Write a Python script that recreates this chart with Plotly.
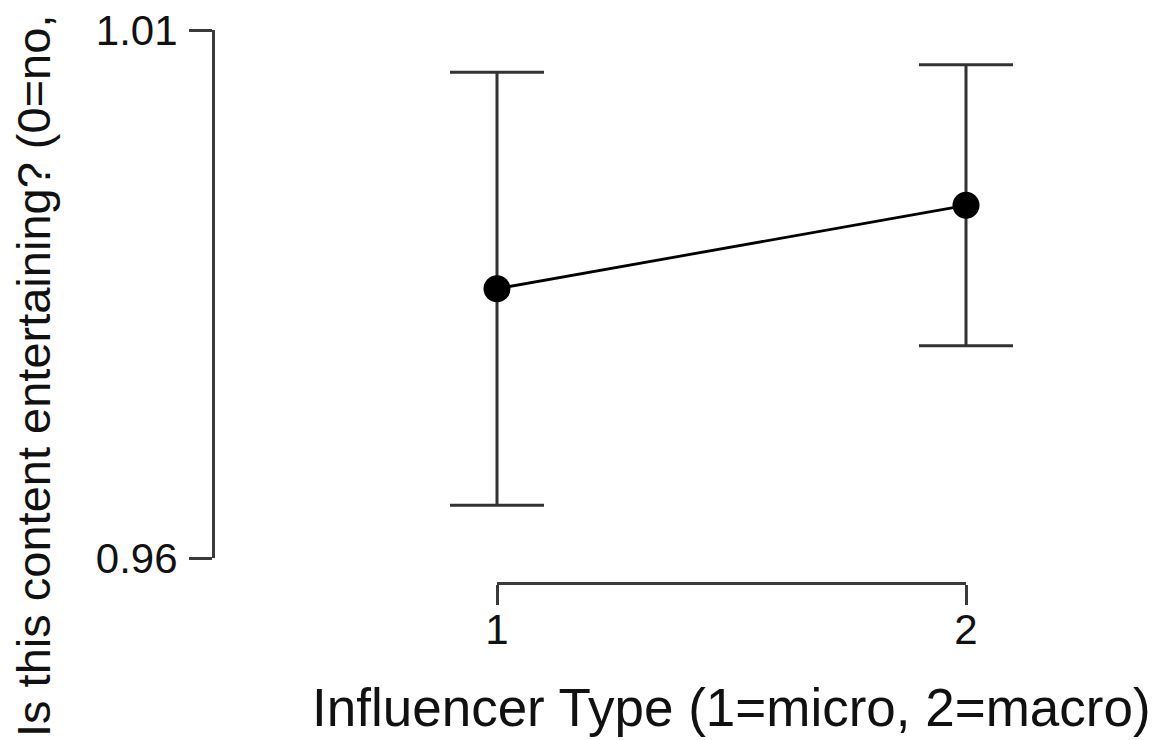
import plotly.graph_objects as go

# Data
categories = [1, 2]
means = [0.9855, 0.9934]
ci_half = [0.0205, 0.0133]
y_ticks = [0.96, 1.01]
y_ticklabels = ["0.96", "1.01"]
x_ticks = [1, 2]
x_ticklabels = ["1", "2"]
x_title = "Influencer Type (1=micro, 2=macro)"
y_title = "Is this content entertaining? (0=no,"

# the page body has an 8px margin; size the figure to fit the window
OFF = 8
W, H = 1167 - OFF, 740 - OFF
FONT = "Arial, Liberation Sans, sans-serif"
AX = "#3a3a3a"
TXT = "#111111"

def fx(px):
    return (px - OFF) / W

def fy(py):
    return 1 - (py - OFF) / H

# pixel anchors in reference-window coordinates
y_top_px, y_bot_px = 30, 558
x1_px, x2_px = 497, 966
yaxis_x_px = 215
xaxis_y_px = 583
ppu = (x2_px - x1_px) / (x_ticks[1] - x_ticks[0])
xr0 = x_ticks[0] - (x1_px - yaxis_x_px) / ppu
xr1 = x_ticks[1] + (W + OFF - x2_px) / ppu

fig = go.Figure()

fig.add_trace(go.Scatter(
    x=categories, y=means, mode="lines+markers",
    line=dict(color="black", width=2.8),
    marker=dict(color="black", size=27),
    error_y=dict(type="data", array=ci_half, visible=True,
                 color="#333333", thickness=3, width=47),
    showlegend=False, hoverinfo="skip", cliponaxis=False,
))

# invisible trace so the separate x axis is drawn
fig.add_trace(go.Scatter(
    x=categories, y=means, xaxis="x2", yaxis="y", mode="markers",
    marker=dict(opacity=0), showlegend=False, hoverinfo="skip",
))

fig.update_layout(
    width=W, height=H,
    margin=dict(l=0, r=0, t=0, b=0, autoexpand=False),
    paper_bgcolor="white", plot_bgcolor="rgba(0,0,0,0)",
    font=dict(family=FONT, color="black"),
    xaxis=dict(
        domain=[fx(yaxis_x_px), 1.0], range=[xr0, xr1],
        visible=False, showgrid=False, zeroline=False, automargin=False,
    ),
    yaxis=dict(
        domain=[fy(y_bot_px), fy(y_top_px)], range=[y_ticks[0], y_ticks[1]],
        anchor="x", showline=True, linecolor=AX, linewidth=3,
        ticks="outside", ticklen=23, tickwidth=3, tickcolor=AX,
        tickvals=y_ticks, ticktext=y_ticklabels,
        tickfont=dict(size=42, color=TXT, family=FONT),
        ticklabelstandoff=3, ticklabeloverflow="allow",
        showgrid=False, zeroline=False, automargin=False,
    ),
    xaxis2=dict(
        domain=[fx(x1_px), fx(x2_px)], range=[x_ticks[0], x_ticks[1]],
        anchor="free", position=fy(xaxis_y_px),
        showline=True, linecolor=AX, linewidth=3,
        ticks="outside", ticklen=20, tickwidth=3, tickcolor=AX,
        tickvals=x_ticks, ticktext=x_ticklabels,
        tickfont=dict(size=42, color=TXT, family=FONT),
        ticklabelstandoff=-11, ticklabeloverflow="allow",
        showgrid=False, zeroline=False, automargin=False,
    ),
    annotations=[
        dict(
            text=y_title, textangle=-90, showarrow=False,
            xref="paper", yref="paper", x=fx(33), y=fy(739),
            xanchor="center", yanchor="bottom",
            font=dict(size=47, color=TXT, family=FONT),
        ),
        dict(
            text=x_title, showarrow=False,
            xref="paper", yref="paper", x=fx((x1_px + x2_px) / 2), y=fy(707),
            xanchor="center", yanchor="middle",
            font=dict(size=53, color=TXT, family=FONT),
        ),
    ],
)

fig.write_html("out.html")
